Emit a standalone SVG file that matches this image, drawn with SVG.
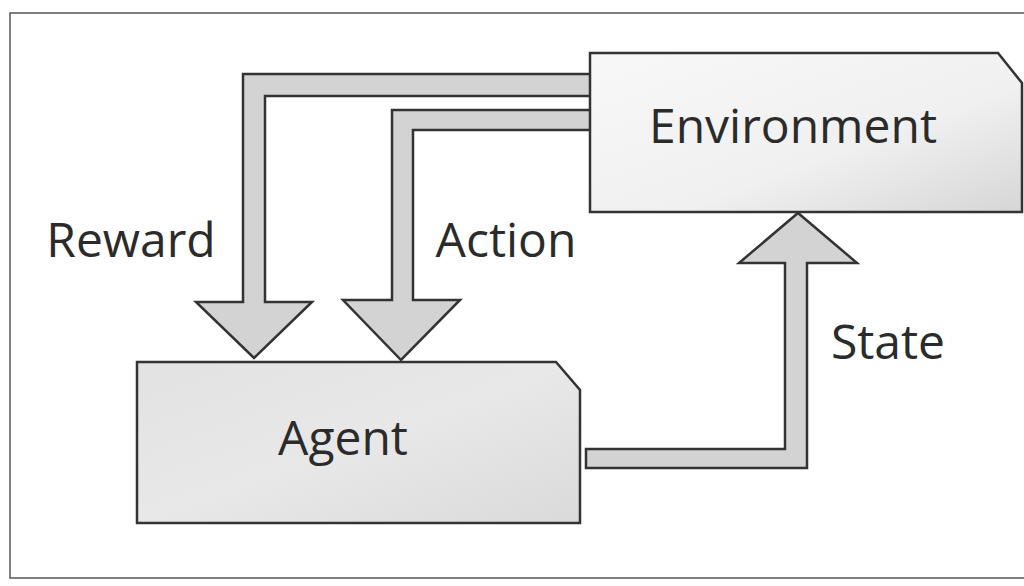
<svg xmlns="http://www.w3.org/2000/svg" width="1024" height="586" viewBox="0 0 1024 586">
  <defs>
    <linearGradient id="envFill" x1="0" y1="0" x2="1" y2="1">
      <stop offset="0" stop-color="#f8f8f8"/>
      <stop offset="0.6" stop-color="#f0f0f0"/>
      <stop offset="1" stop-color="#d6d6d6"/>
    </linearGradient>
    <linearGradient id="agentFill" x1="0" y1="0" x2="1" y2="1">
      <stop offset="0" stop-color="#e2e2e2"/>
      <stop offset="0.5" stop-color="#e8e8e8"/>
      <stop offset="1" stop-color="#dadada"/>
    </linearGradient>
  </defs>
  <style>
    .frame { fill: #ffffff; stroke: #555555; stroke-width: 1.5; }
    .arrow { fill: #d3d3d3; stroke: #333333; stroke-width: 2.5; stroke-linejoin: miter; }
    .box { stroke: #333333; stroke-width: 2.5; stroke-linejoin: miter; }
    .label { font-family: "Open Sans", "Noto Sans", "DejaVu Sans", sans-serif; font-size: 48px; fill: #2b2b2b; text-anchor: middle; }
  </style>
  <rect width="1024" height="586" fill="#ffffff"/>
  <path class="frame" d="M1030,13 L10,13 L10,578 L1030,578"/>

  <g id="connectors">
    <g id="reward-arrow">
      <polygon class="arrow" points="592,74 243,74 243,302 196,302 254,358 312,302 265,302 265,96 592,96"/>
    </g>
    <g id="action-arrow">
      <polygon class="arrow" points="592,110 392,110 392,300 343,300 401,360 460,300 413,300 413,130 592,130"/>
    </g>
    <g id="state-arrow">
      <polygon class="arrow" points="586,449 785,449 785,263 739,263 798,213 857,263 807,263 807,468 586,468"/>
    </g>
  </g>

  <g id="environment">
    <polygon class="box" fill="url(#envFill)" points="590,53 998,53 1022,83 1022,212 590,212"/>
    <text class="label" x="793" y="143">Environment</text>
  </g>

  <g id="agent">
    <polygon class="box" fill="url(#agentFill)" points="137,362 556,362 580,390 580,523 137,523"/>
    <text class="label" x="343" y="455">Agent</text>
  </g>

  <g id="labels">
    <text class="label" x="131" y="257">Reward</text>
    <text class="label" x="506" y="257">Action</text>
    <text class="label" x="888" y="359">State</text>
  </g>
</svg>
